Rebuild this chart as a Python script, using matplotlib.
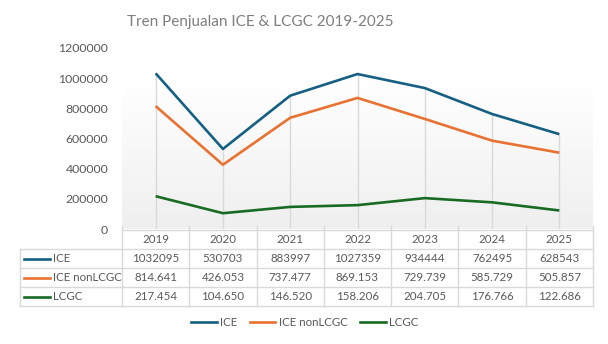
import numpy as np
import matplotlib
matplotlib.use("Agg")
import matplotlib.pyplot as plt
from matplotlib.colors import LinearSegmentedColormap
from matplotlib.transforms import blended_transform_factory

years = ["2019", "2020", "2021", "2022", "2023", "2024", "2025"]
ice = [1032095, 530703, 883997, 1027359, 934444, 762495, 628543]
ice_non_lcgc = [814641, 426053, 737477, 869153, 729739, 585729, 505857]
lcgc = [217454, 104650, 146520, 158206, 204705, 176766, 122686]
series_names = ["ICE", "ICE nonLCGC", "LCGC"]
yticks = [0, 200000, 400000, 600000, 800000, 1000000, 1200000]

colors = ["#156082", "#E97132", "#196B24"]
grid_c = "#d9d9d9"
text_c = "#595959"
fs = 8.3

plt.rcParams['font.family'] = ['Lato', 'DejaVu Sans']

W, H = 608, 344
fig = plt.figure(figsize=(W / 100, H / 100), dpi=100)

def fx(px):
    return px / W

def fy(py):
    return 1 - py / H

left, right, top, bottom = 122, 593, 48, 229
ax = fig.add_axes([fx(left), fy(bottom), fx(right) - fx(left), (bottom - top) / H])
ax.set_xlim(-0.5, len(years) - 0.5)
ax.set_ylim(0, 1200000)
for s in ax.spines.values():
    s.set_visible(False)
ax.set_xticks([])
ax.set_yticks(yticks)
ax.set_yticklabels([str(v) for v in yticks], fontsize=fs + 0.5, color=text_c)
ax.tick_params(axis='y', length=0, pad=10)

# plot area gradient (white at top, light gray at bottom)
g_top = 1 - (82 - top) / (bottom - top)
cmap = LinearSegmentedColormap.from_list("g", ["#efefef", "#ffffff"])
grad = np.linspace(0, 1, 256).reshape(-1, 1)
ax.imshow(grad, cmap=cmap, origin='lower', aspect='auto',
          extent=[-0.5, len(years) - 0.5, 0, g_top * 1200000], zorder=0)

x = np.arange(len(years))
all_series = [ice, ice_non_lcgc, lcgc]

# drop lines
tops = np.max(np.array(all_series), axis=0)
ax.vlines(x, 0, tops, color=grid_c, lw=1, zorder=1)

for vals, c in zip(all_series, colors):
    ax.plot(x, vals, color=c, lw=1.9, zorder=3, solid_capstyle='butt')

# title
fig.text(fx(260), fy(22), "Tren Penjualan ICE & LCGC 2019-2025", ha='center', va='center',
         fontsize=11, color="#7f7f7f")

# data table
row_y = [230, 249, 268, 287, 306]
tbl_left = 20
ncol = len(years)
colw = (right - left) / ncol
lkw = dict(color=grid_c, lw=1, transform=fig.transFigure)
fig.add_artist(plt.Line2D([fx(left), fx(right)], [fy(row_y[0])] * 2, **lkw))
for yy in row_y[1:]:
    fig.add_artist(plt.Line2D([fx(tbl_left), fx(right)], [fy(yy)] * 2, **lkw))
fig.add_artist(plt.Line2D([fx(tbl_left)] * 2, [fy(row_y[1]), fy(row_y[-1])], **lkw))
for i in range(ncol + 1):
    xx = left + i * colw
    fig.add_artist(plt.Line2D([fx(xx)] * 2, [fy(row_y[0] - 4), fy(row_y[-1])], **lkw))

tr = blended_transform_factory(ax.transData, fig.transFigure)
for i, yr in enumerate(years):
    fig.text(i, fy((row_y[0] + row_y[1]) / 2), yr, transform=tr, ha='center', va='center',
             fontsize=fs, color=text_c)

def fmt_int(v):
    return str(v)

def fmt_dot(v):
    return f"{v:,}".replace(",", ".")

formats = [fmt_int, fmt_dot, fmt_dot]
for r, (name, vals, c, f) in enumerate(zip(series_names, all_series, colors, formats)):
    yc = fy((row_y[r + 1] + row_y[r + 2]) / 2)
    fig.add_artist(plt.Line2D([fx(24), fx(50)], [yc, yc], color=c, lw=1.9, transform=fig.transFigure))
    fig.text(fx(53), yc, name, ha='left', va='center', fontsize=fs, color=text_c)
    for i, v in enumerate(vals):
        fig.text(i, yc, f(v), transform=tr, ha='center', va='center', fontsize=fs, color=text_c)

# legend
leg = fig.legend([plt.Line2D([], [], color=c, lw=1.9) for c in colors], series_names,
                 loc='center', bbox_to_anchor=(fx(305), fy(323)), ncol=3, frameon=False,
                 fontsize=fs, handlelength=2.2, handletextpad=0.3, columnspacing=1.1)
for t in leg.get_texts():
    t.set_color(text_c)

fig.savefig("out.png", dpi=100, facecolor="white")
